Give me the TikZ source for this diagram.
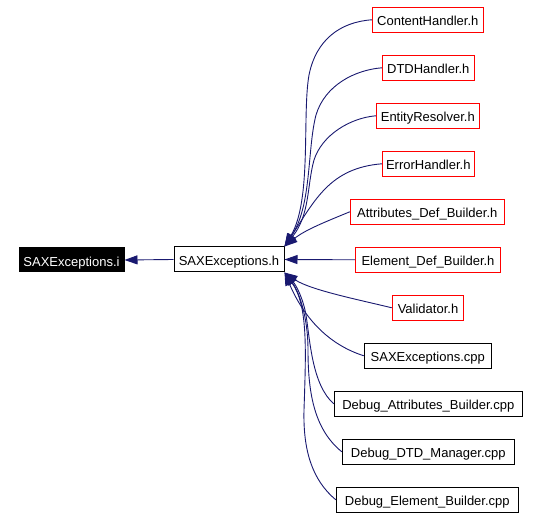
\documentclass[tikz,border=0pt]{standalone}
\usepackage{fontspec}
\setmainfont{Liberation Sans}
\usetikzlibrary{arrows.meta}
\definecolor{edgeblue}{RGB}{25,25,112}
\definecolor{boxred}{RGB}{255,0,0}
\begin{document}
\begin{tikzpicture}[x=1pt,y=-1pt,
  box/.style={draw=black,line width=1pt,inner sep=0pt,minimum height=25pt,
    text height=12.4pt,text depth=0pt,
    font=\fontsize{13}{15}\selectfont,text=black,fill=white},
  redbox/.style={box,draw=boxred},
  dep/.style={draw=edgeblue,line width=0.9pt,-{Triangle[length=13pt,width=9pt]}}]
\useasboundingbox (0,0) rectangle (539,518);
\node[box,fill=black,text=white,draw=black,minimum width=105pt,minimum height=24pt] (i) at (71.5,260) {SAXExceptions.i};
\node[box,minimum width=110pt] (h) at (229,259.5) {SAXExceptions.h};
\node[redbox,minimum width=111pt] (CH) at (427.8,19.8) {ContentHandler.h};
\node[redbox,minimum width=92pt] (DTD) at (428.3,67.8) {DTDHandler.h};
\node[redbox,minimum width=103pt] (ER) at (427.8,115.8) {EntityResolver.h};
\node[redbox,minimum width=92pt] (EH) at (428.3,163.8) {ErrorHandler.h};
\node[redbox,minimum width=154pt] (ADB) at (427.3,211.8) {Attributes\_Def\_Builder.h};
\node[redbox,minimum width=145pt] (EDB) at (428,259.8) {Element\_Def\_Builder.h};
\node[redbox,minimum width=71.5pt] (Val) at (428,307.8) {Validator.h};
\node[box,minimum width=127pt] (SC) at (427.8,355.8) {SAXExceptions.cpp};
\node[box,minimum width=188pt] (DAB) at (428.3,403.8) {Debug\_Attributes\_Builder.cpp};
\node[box,minimum width=172pt] (DDM) at (428.3,451.8) {Debug\_DTD\_Manager.cpp};
\node[box,minimum width=182pt] (DEB) at (427.3,499.8) {Debug\_Element\_Builder.cpp};
\draw[dep] (h.west) -- (i.east);
\draw[dep] (CH.west) .. controls (340,22) and (316,40) .. (309,75) .. controls (302,115) and (312,200) .. (h.north east);
\draw[dep] (DTD.west) .. controls (355,70) and (325,85) .. (316,115) .. controls (307,150) and (312,205) .. (h.north east);
\draw[dep] (ER.west) .. controls (350,118) and (322,135) .. (314,160) .. controls (307,185) and (310,215) .. (h.north east);
\draw[dep] (EH.west) .. controls (330,168) and (315,200) .. (h.north east);
\draw[dep] (ADB.west) .. controls (325,222) and (305,230) .. (h.north east);
\draw[dep] (EDB.west) -- (h.east);
\draw[dep] (Val.west) .. controls (360,300) and (310,290) .. (h.south east);
\draw[dep] (SC.west) .. controls (330,345) and (305,320) .. (h.south east);
\draw[dep] (DAB.west) .. controls (312,385) and (310,340) .. (306,315) .. controls (303,298) and (296,285) .. (h.south east);
\draw[dep] (DDM.west) .. controls (315,430) and (308,395) .. (308,350) .. controls (308,315) and (298,290) .. (h.south east);
\draw[dep] (DEB.west) .. controls (312,480) and (303,450) .. (304,410) .. controls (306,350) and (308,305) .. (h.south east);
\end{tikzpicture}
\end{document}
